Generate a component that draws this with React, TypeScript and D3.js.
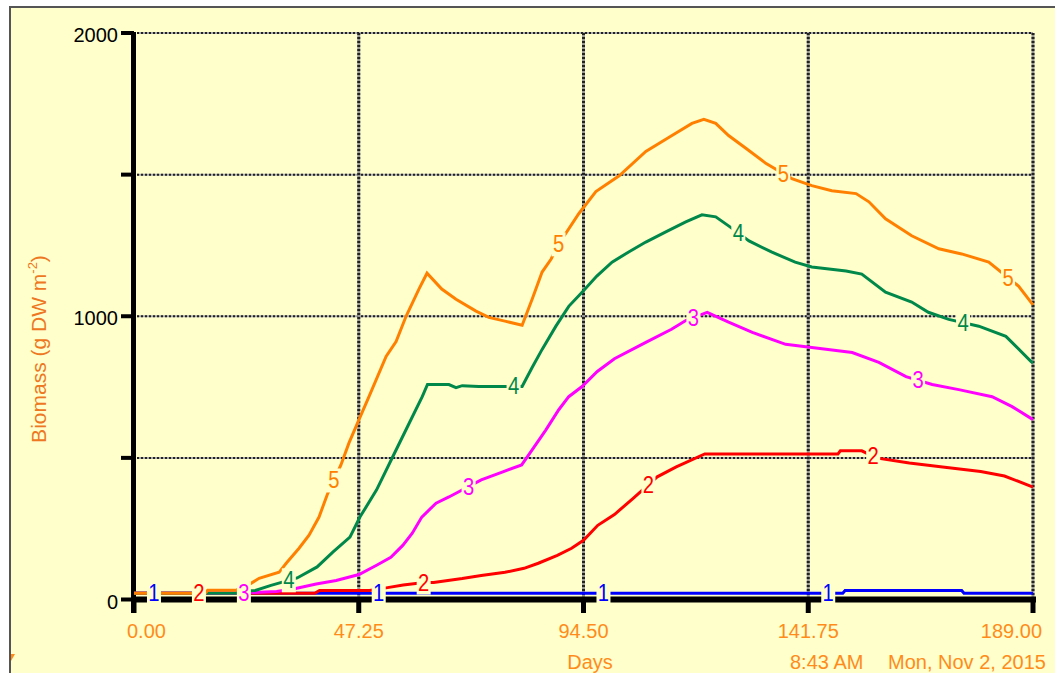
import * as d3 from 'd3';
import {useEffect, useRef} from "react";

type Pt = [number, number];

const xTicks = [0, 47.25, 94.5, 141.75, 189];
const xTickLabels = ["0.00", "47.25", "94.50", "141.75", "189.00"];
const yTicks = [0, 500, 1000, 1500, 2000];
const yTickLabels = ["0", "", "1000", "", "2000"];

// Biomass (g DW m-2) vs days
const series1: Pt[] = [[0, 22], [149, 22], [149.5, 32], [174, 32], [174.5, 22], [189, 22]];
const series2: Pt[] = [[0, 22], [38, 22], [39, 32], [49.5, 32], [53, 41], [56.6, 51], [61, 60], [63, 60], [69, 74], [73, 85], [78, 96], [82, 110], [85, 128], [89, 156], [92, 181], [94.5, 209], [97.5, 262], [101, 300], [105, 358], [110, 433], [114, 468], [120, 514], [148, 514], [148.5, 525], [153, 525], [156, 500], [163, 482], [170, 468], [178, 452], [183, 436], [189, 397]];
const series3: Pt[] = [[0, 22], [22, 22], [25, 25], [30, 28], [34, 39], [38.3, 55], [42.5, 67], [47.3, 88], [51, 121], [54, 149], [56.5, 191], [58.5, 234], [60.5, 291], [63.5, 340], [66.2, 362], [73, 422], [77.4, 450], [81.5, 475], [83.7, 528], [86.6, 599], [89.3, 670], [91.4, 716], [94.2, 752], [97.4, 805], [101, 850], [107.6, 908], [113, 954], [116, 985], [120.5, 1014], [125, 979], [130, 943], [137, 901], [142.5, 890], [151, 872], [156.6, 837], [162.3, 787], [167.8, 759], [173.4, 741], [180.4, 716], [184.6, 681], [189, 635]];
const series4: Pt[] = [[0, 22], [21.5, 22], [22, 30], [25.5, 32], [28.8, 50], [34.3, 76], [38.5, 115], [41.8, 167], [45.4, 220], [47.5, 291], [51, 387], [54.4, 504], [57.9, 624], [60.6, 716], [61.7, 759], [66.2, 759], [67.7, 748], [69, 755], [72.5, 752], [81.6, 752], [83.7, 819], [85.8, 883], [88.7, 965], [91.4, 1035], [94.2, 1085], [97.3, 1142], [100.5, 1191], [104, 1227], [107.6, 1262], [111.8, 1298], [116, 1333], [119.4, 1358], [122.3, 1351], [125, 1319], [129.3, 1266], [134, 1227], [139, 1191], [142.5, 1174], [149.7, 1160], [153, 1149], [158, 1085], [163.5, 1050], [167, 1014], [171.3, 989], [177.6, 965], [183.3, 929], [188.6, 840], [189, 835]];
const series5: Pt[] = [[0, 22], [15, 22], [15.5, 33], [21.5, 33], [23, 45], [24.6, 57], [26.3, 75], [30.5, 96], [32, 128], [34.7, 181], [36.8, 227], [38.9, 291], [40.6, 369], [43.5, 475], [45.2, 553], [47.3, 635], [49.4, 716], [53, 858], [55.1, 911], [57.2, 1000], [59.9, 1096], [61.6, 1152], [64.7, 1096], [67.7, 1060], [71.9, 1018], [74.6, 996], [78.2, 982], [81.6, 968], [83.7, 1060], [85.8, 1156], [87.7, 1202], [89.1, 1250], [93.5, 1362], [97.1, 1440], [102, 1496], [107.6, 1582], [113.1, 1638], [117.3, 1681], [119.8, 1695], [122.3, 1681], [125, 1638], [128.7, 1592], [132.9, 1539], [138.3, 1486], [142.5, 1461], [146.7, 1443], [151.8, 1433], [154.5, 1404], [158, 1344], [163.5, 1284], [169.2, 1238], [174, 1220], [179.7, 1191], [186, 1106], [189, 1040]];

const allSeries = [series1, series2, series3, series4, series5];
const seriesNames = ["1", "2", "3", "4", "5"];
const seriesColors = ["#0000FF", "#FF0000", "#FF00FF", "#00884A", "#FF8000"];
// day of the first in-line label of each series, repeated every 47.25 days
const firstLabelDay = [4.2, 13.65, 23.1, 32.55, 42];

const BG = "#FFFFCC";

const valueAt = (pts: Pt[], d: number) => {
    for (let i = 0; i < pts.length - 1; i++) {
        const [d0, v0] = pts[i];
        const [d1, v1] = pts[i + 1];
        if (d >= d0 && d <= d1) {
            return d1 === d0 ? v1 : v0 + (v1 - v0) * (d - d0) / (d1 - d0);
        }
    }
    return pts[pts.length - 1][1];
};

export default function App() {
    const svgRef = useRef<SVGSVGElement | null>(null);

    useEffect(() => {
        if (!svgRef.current) return;
        const width = 1055;
        const height = 673;

        const xScale = d3.scaleLinear().domain([0, 189]).range([134, 1033]);
        const yScale = d3.scaleLinear().domain([0, 2000]).range([599.5, 33]);

        const svg = d3.select(svgRef.current)
            .attr("width", width)
            .attr("height", height)
            .style("font-family", "'Liberation Sans', Arial, sans-serif");

        svg.selectAll("*").remove();

        svg.append("rect").attr("x", 0).attr("y", 0).attr("width", width).attr("height", height).attr("fill", "white");
        svg.append("rect").attr("x", 10).attr("y", 7).attr("width", width - 10).attr("height", height - 7).attr("fill", BG);
        svg.append("path").attr("d", `M10,${height}V7H${width}`).attr("fill", "none").attr("stroke", "#555").attr("stroke-width", 2);

        // grid
        const grid = svg.append("g");
        yTicks.filter(v => v > 0).forEach(v => {
            grid.append("line")
                .attr("x1", xScale(0) + 3).attr("x2", xScale(189))
                .attr("y1", yScale(v)).attr("y2", yScale(v))
                .attr("stroke", "#aaa").attr("stroke-width", 2);
            grid.append("line")
                .attr("x1", xScale(0) + 3).attr("x2", xScale(189))
                .attr("y1", yScale(v)).attr("y2", yScale(v))
                .attr("stroke", "#222").attr("stroke-width", 2).attr("stroke-dasharray", "2,2");
        });
        xTicks.filter(v => v > 0).forEach(v => {
            grid.append("line")
                .attr("x1", xScale(v)).attr("x2", xScale(v))
                .attr("y1", yScale(2000)).attr("y2", yScale(0))
                .attr("stroke", "#999").attr("stroke-width", 3);
            grid.append("line")
                .attr("x1", xScale(v)).attr("x2", xScale(v))
                .attr("y1", yScale(2000)).attr("y2", yScale(0))
                .attr("stroke", "#222").attr("stroke-width", 3).attr("stroke-dasharray", "2,2");
        });

        // axes
        const axes = svg.append("g");
        axes.append("line")
            .attr("x1", xScale(0) - 0.5).attr("x2", xScale(0) - 0.5)
            .attr("y1", yScale(2000) - 1).attr("y2", 613)
            .attr("stroke", "black").attr("stroke-width", 5);
        axes.append("line")
            .attr("x1", xScale(0) - 3).attr("x2", xScale(189) + 3)
            .attr("y1", yScale(0)).attr("y2", yScale(0))
            .attr("stroke", "black").attr("stroke-width", 6);
        xTicks.forEach(v => {
            axes.append("line")
                .attr("x1", xScale(v)).attr("x2", xScale(v))
                .attr("y1", yScale(0)).attr("y2", 613)
                .attr("stroke", "black").attr("stroke-width", 5);
        });
        yTicks.forEach(v => {
            axes.append("line")
                .attr("x1", 121).attr("x2", xScale(0))
                .attr("y1", yScale(v)).attr("y2", yScale(v))
                .attr("stroke", "black").attr("stroke-width", 4);
        });
        yTicks.forEach((v, i) => {
            axes.append("text")
                .attr("x", 118).attr("y", yScale(v) + 9)
                .attr("text-anchor", "end")
                .attr("font-size", 20)
                .attr("fill", "black")
                .text(yTickLabels[i]);
        });
        xTicks.forEach((v, i) => {
            const anchor = i === 0 ? "start" : i === xTicks.length - 1 ? "end" : "middle";
            const xx = i === 0 ? 127 : i === xTicks.length - 1 ? 1042 : xScale(v);
            axes.append("text")
                .attr("x", xx).attr("y", 638)
                .attr("text-anchor", anchor)
                .attr("font-size", 20)
                .attr("fill", "#FF8C1A")
                .text(xTickLabels[i]);
        });

        // lines
        const line = d3.line<Pt>()
            .x(d => xScale(d[0]))
            .y(d => yScale(d[1]));

        allSeries.forEach((s, i) => {
            svg.append("path")
                .datum(s)
                .attr("fill", "none")
                .attr("stroke", seriesColors[i])
                .attr("stroke-width", 3)
                .attr("d", line);
        });

        // in-line series numbers
        allSeries.forEach((s, i) => {
            for (let j = 0; j < 4; j++) {
                const day = firstLabelDay[i] + j * 47.25;
                const lx = xScale(day);
                const ly = yScale(valueAt(s, day));
                const g = svg.append("g");
                g.append("rect")
                    .attr("x", lx - 7).attr("y", ly - 12)
                    .attr("width", 14).attr("height", 24)
                    .attr("fill", BG);
                g.append("text")
                    .attr("transform", `translate(${lx},${ly + 8}) scale(0.88,1)`)
                    .attr("text-anchor", "middle")
                    .attr("font-size", 23)
                    .attr("fill", seriesColors[i])
                    .text(seriesNames[i]);
            }
        });

        // titles
        svg.append("text")
            .attr("transform", "translate(46,349) rotate(-90)")
            .attr("text-anchor", "middle")
            .attr("font-size", 21)
            .attr("fill", "#EE7722")
            .call(t => {
                t.append("tspan").text("Biomass (g DW m");
                t.append("tspan").attr("font-size", 13).attr("dy", -9).text("-2");
                t.append("tspan").attr("dy", 9).text(")");
            });

        svg.append("text")
            .attr("x", 590).attr("y", 669)
            .attr("text-anchor", "middle")
            .attr("font-size", 20)
            .attr("fill", "#FF8C1A")
            .text("Days");
        svg.append("text")
            .attr("x", 790).attr("y", 669)
            .attr("font-size", 20)
            .attr("fill", "#FF8C1A")
            .text("8:43 AM");
        svg.append("text")
            .attr("x", 888).attr("y", 669)
            .attr("font-size", 20)
            .attr("fill", "#FF8C1A")
            .text("Mon, Nov 2, 2015");

        svg.append("path")
            .attr("d", "M11,654L15,654L11,661Z")
            .attr("fill", "#FF8C1A");
    }, []);

    return (
        <div style={{position: "absolute", left: 0, top: 0}}>
            <svg ref={svgRef} style={{display: "block"}}></svg>
        </div>
    );
}
